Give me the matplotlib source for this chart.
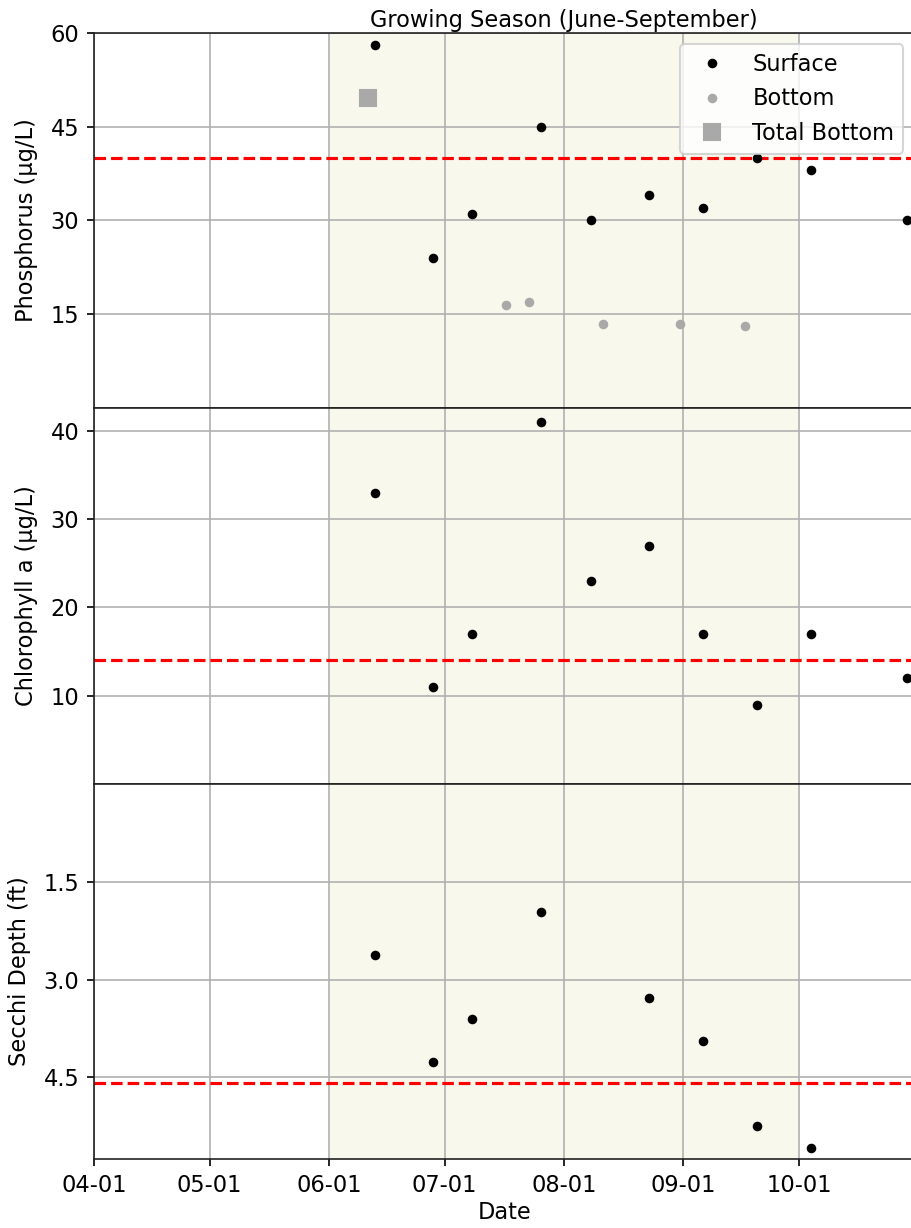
import matplotlib
matplotlib.use("Agg")
import matplotlib.pyplot as plt
import matplotlib.dates as mdates
import numpy as np
import pandas as pd

# ---- data ----
surface_dates = ["2019-06-13", "2019-06-28", "2019-07-08", "2019-07-26", "2019-08-08",
                 "2019-08-23", "2019-09-06", "2019-09-20", "2019-10-04", "2019-10-29"]
phos_surface = [58, 24, 31, 45, 30, 34, 32, 40, 38, 30]
bottom_dates = ["2019-07-17", "2019-07-23", "2019-08-11", "2019-08-31", "2019-09-17"]
phos_bottom = [16.4, 16.9, 13.4, 13.4, 13.1]
total_bottom_dates = ["2019-06-11"]
phos_total_bottom = [49.6]
chl_surface = [33, 11, 17, 41, 23, 27, 17, 9, 17, 12]
secchi_dates = ["2019-06-13", "2019-06-28", "2019-07-08", "2019-07-26",
                "2019-08-23", "2019-09-06", "2019-09-20", "2019-10-04"]
secchi = [2.62, 4.27, 3.61, 1.97, 3.28, 3.94, 5.25, 5.58]
phos_threshold = 40
chl_threshold = 14
secchi_threshold = 4.59
season_start, season_end = "2019-06-01", "2019-10-01"
x_start, x_end = "2019-04-01", "2019-10-31"
phos_ticks = [15, 30, 45, 60]
chl_ticks = [10, 20, 30, 40]
secchi_ticks = [1.5, 3.0, 4.5]

sd = pd.to_datetime(surface_dates)
bd = pd.to_datetime(bottom_dates)
tbd = pd.to_datetime(total_bottom_dates)
secd = pd.to_datetime(secchi_dates)

plt.rcParams['font.family'] = ['DejaVu Sans']
plt.rcParams['font.size'] = 10.8

fig = plt.figure(figsize=(911 / 150, 1228 / 150), dpi=150)
W, H = 911, 1228
left = 94 / W
right = 914.6 / W
tops = [33, 408, 784]
bots = [408, 784, 1159]
axes = []
for i in range(3):
    ax = fig.add_axes([left, 1 - bots[i] / H, right - left, (bots[i] - tops[i]) / H],
                      sharex=axes[0] if axes else None)
    axes.append(ax)

shade = '#f8f8ec'
for ax in axes:
    ax.axvspan(pd.Timestamp(season_start), pd.Timestamp(season_end), color=shade, zorder=0, lw=0)
    ax.grid(True, color='#b0b0b0', lw=0.8, zorder=1)
    ax.set_axisbelow(True)
    for s in ax.spines.values():
        s.set_color('#222222')

ax1, ax2, ax3 = axes
ax1.plot(sd, phos_surface, 'o', color='black', ms=3.6, label='Surface', zorder=3)
ax1.plot(bd, phos_bottom, 'o', color='darkgray', ms=3.6, label='Bottom', zorder=3)
ax1.plot(tbd, phos_total_bottom, 's', color='darkgray', ms=7.5, label='Total Bottom', zorder=3)
ax1.axhline(phos_threshold, color='red', ls='--', lw=1.5, zorder=2)
ax1.set_ylim(0, 60)
ax1.set_yticks(phos_ticks)
ax1.set_ylabel('Phosphorus (µg/L)', labelpad=6)
ax1.legend(loc='upper right')

ax2.plot(sd, chl_surface, 'o', color='black', ms=3.6, zorder=3)
ax2.axhline(chl_threshold, color='red', ls='--', lw=1.5, zorder=2)
ax2.set_ylim(0, 42.6)
ax2.set_yticks(chl_ticks)
ax2.set_ylabel('Chlorophyll a (µg/L)', labelpad=6)

ax3.plot(secd, secchi, 'o', color='black', ms=3.6, zorder=3)
ax3.axhline(secchi_threshold, color='red', ls='--', lw=1.5, zorder=2)
ax3.set_ylim(5.75, 0)
ax3.set_yticks(secchi_ticks)
ax3.set_yticklabels([f"{t:.1f}" for t in secchi_ticks])
ax3.set_ylabel('Secchi Depth (ft)', labelpad=6)
ax3.set_xlabel('Date', labelpad=2)

ax3.set_xlim(pd.Timestamp(x_start), pd.Timestamp(x_end))
ax3.xaxis.set_major_locator(mdates.MonthLocator())
ax3.xaxis.set_major_formatter(mdates.DateFormatter('%m-%d'))
for ax in (ax1, ax2):
    ax.tick_params(axis='x', which='both', length=0, labelbottom=False)

mid = pd.Timestamp(season_start) + (pd.Timestamp(season_end) - pd.Timestamp(season_start)) / 2
ax1.text(mid, 1.003, 'Growing Season (June-September)', transform=ax1.get_xaxis_transform(),
         ha='center', va='bottom')

fig.savefig('out.png', dpi=150)
